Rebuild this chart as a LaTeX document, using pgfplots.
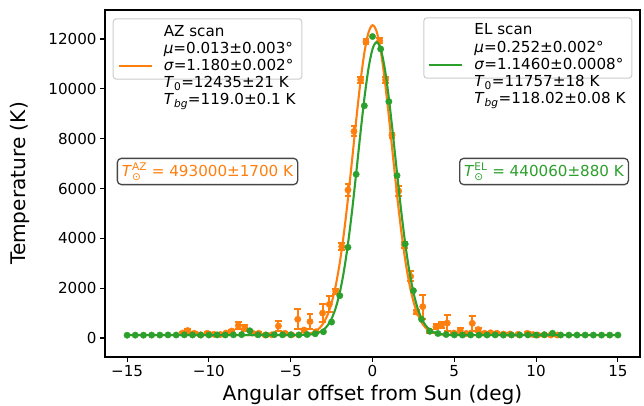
\documentclass[border=0pt]{standalone}
\usepackage{fontspec}
\setmainfont{DejaVu Sans}
\usepackage{pgfplots}
\usepackage{pgfplotstable}
\pgfplotsset{compat=1.18}
\definecolor{c0}{HTML}{FF7F0E}
\definecolor{c1}{HTML}{2CA02C}

\pgfplotstableread{
x y e
-11.6 200 60
-11.3 300 80
-10.9 190 40
-10.5 130 30
-10.1 190 40
-9.7 150 30
-9.3 140 30
-8.95 200 40
-8.6 280 60
-8.2 500 130
-7.8 400 110
-7.35 200 50
-6.95 190 40
-6.55 120 30
-6.15 130 30
-5.75 480 200
-5.35 190 50
-4.95 130 30
-4.57 750 400
-4.18 320 60
-3.82 660 300
-3.45 250 60
-3.05 1000 370
-2.64 1350 320
-2.25 1880 100
-1.88 3670 150
-1.5 5940 240
-1.13 8290 200
-0.72 10360 120
-0.4 11880 100
0.44 11930 100
0.8 10360 120
1.19 8140 100
1.6 5900 220
1.94 3750 120
2.33 2470 200
2.7 1040 80
3.07 1260 480
3.5 280 60
3.88 450 100
4.22 520 130
4.57 600 330
4.97 200 40
5.36 310 100
5.73 180 40
6.1 590 310
6.46 340 80
6.85 190 40
7.22 210 40
7.6 190 40
8.0 160 30
8.4 160 30
8.9 150 30
9.46 190 40
9.8 140 30
10.1 120 30
10.5 130 30
10.9 120 30
11.3 120 30
}\azdata

\pgfplotstableread{
x y
-15 112
-14.5 115
-14 113
-13.5 117
-13 118
-12.5 124
-12 120
-11.5 126
-11 122
-10.5 118
-10 120
-9.5 125
-9 121
-8.5 128
-8 135
-7.5 290
-7 128
-6.5 124
-6 135
-5.5 128
-5 130
-4.5 125
-4 140
-3.5 170
-3 250
-2.5 640
-2 1700
-1.5 3640
-1 6570
-0.5 9320
0 12100
0.5 11600
1 9490
1.5 6520
2 3775
2.5 1900
3 750
3.5 270
4 180
4.5 140
5 125
5.5 120
6 122
6.5 118
7 120
7.5 125
8 118
8.5 122
9 120
9.5 124
10 118
10.5 130
11 190
11.5 120
12 118
12.5 120
13 119
13.5 118
14 117
14.5 118
15 118
}\eldata

\pgfplotstableread{
x y
-15 119
-10 119
-6 119
-5 120.5
-4.5 127
-4 157
-3.75 196
-3.5 267
-3.25 391
-3 596
-2.75 921
-2.5 1406
-2.25 2096
-2 3021
-1.75 4193
-1.5 5586
-1.25 7132
-1 8721
-0.75 10207
-0.5 11432
-0.25 12249
0 12554
0.25 12306
0.5 11538
0.75 10351
1 8883
1.25 7298
1.5 5740
1.75 4327
2 3131
2.25 2181
2.5 1468
2.75 963
3 624
3.25 408
3.5 277
3.75 202
4 160
4.5 128
5 121
6 119
10 119
15 119
}\azfit

\pgfplotstableread{
x y
-15 118
-10 118
-6 118
-5 118.3
-4.5 120
-4 130
-3.75 144
-3.5 173
-3.25 228
-3 328
-2.75 498
-2.5 776
-2.25 1203
-2 1824
-1.75 2674
-1.5 3772
-1.25 5098
-1 6591
-0.75 8140
-0.5 9598
-0.25 10799
0 11594
0.25 11875
0.5 11604
0.75 10816
1 9620
1.25 8165
1.5 6616
1.75 5122
2 3791
2.25 2689
2.5 1835
2.75 1211
3 781
3.25 502
3.5 330
3.75 229
4 174
4.5 130
5 120
5.5 118.3
6 118
10 118
15 118
}\elfit

\newcommand{\fn}{\fontsize{15.2}{17.2}\selectfont}
\newcommand{\fs}{\fontsize{10.6}{11}\selectfont}
\newcommand{\fl}{\fontsize{20.2}{23}\selectfont}

\tikzset{
  annot/.style={draw=black!72, line width=1.3bp, rounded corners=4bp, fill=white, inner xsep=4.5bp, inner ysep=4bp, font=\fn, anchor=center},
}

\pgfplotsset{
  myaxis/.style={
    scale only axis, width=535bp, height=347bp,
    xmin=-16.35, xmax=16.35, ymin=-762, ymax=13164,
    xtick={-15,-10,-5,0,5,10,15},
    xticklabels={−15,−10,−5,0,5,10,15},
    ytick={0,2000,4000,6000,8000,10000,12000},
    scaled y ticks=false,
    yticklabel style={/pgf/number format/.cd, fixed, set thousands separator={}, assume math mode=true},
    tick label style={font=\fn},
    tick align=outside, major tick length=4.9bp,
    xtick pos=bottom, ytick pos=left,
    every tick/.style={black, line width=1.1bp},
    axis line style={line width=1.1bp},
    xlabel={Angular offset from Sun (deg)},
    ylabel={Temperature (K)},
    every axis x label/.style={at={(axis description cs:0.5,-0.1095)}, anchor=center, font=\fl},
    every axis y label/.style={at={(axis description cs:-0.1589,0.5)}, anchor=center, rotate=90, font=\fl},
    legend cell align=left,
    legend image code/.code={\draw[#1, yshift=-17bp] (0bp,0bp) -- (33bp,0bp);},
    legend style={draw=black!20, rounded corners=3bp, fill=white, fill opacity=0.8, text opacity=1, line width=1bp, font=\fn, inner xsep=4.3bp, inner ysep=3.2bp, column sep=9.2bp},
  },
}

\begin{document}
\begin{tikzpicture}
\useasboundingbox (-105bp,-49bp) rectangle (539bp,357bp);
\begin{axis}[myaxis, legend style={at={(axis description cs:0.0144,0.976)}, anchor=north west}]
\addplot[forget plot, only marks, mark=*, mark size=3.2bp, color=c0, mark options={fill=c0, draw=c0},
  error bars/.cd, y dir=both, y explicit,
  error bar style={line width=2bp, color=c0, solid},
  error mark options={rotate=90, mark size=3.4bp, line width=2bp, color=c0, solid}]
  table[x=x, y=y, y error=e] {\azdata};
\addplot[c0, line width=2.1bp, smooth] table[x=x,y=y] {\azfit};
\addlegendentry{\begin{tabular}{@{}l@{}}AZ scan\\ \textit{μ}=0.013±0.003°\\ \textit{σ}=1.180±0.002°\\ \textit{T}\textsubscript{0}=12435±21 K\\ \textit{T}\textsubscript{\textit{bg}}=119.0±0.1 K\rule[-9.2bp]{0pt}{0pt}\end{tabular}}
\node[annot, text=c0] at (axis description cs:0.1916,0.5346) {$\mbox{\textit{T}}^{\mbox{\fs AZ}}_{\mbox{\fs ⊙}}$ = 493000±1700 K};
\end{axis}
\begin{axis}[myaxis, hide axis, legend style={at={(axis description cs:0.9856,0.979)}, anchor=north east}]
\addplot[forget plot, only marks, mark=*, mark size=3.2bp, color=c1] table[x=x, y=y] {\eldata};
\addplot[c1, line width=2.1bp, smooth] table[x=x,y=y] {\elfit};
\addlegendentry{\begin{tabular}{@{}l@{}}EL scan\\ \textit{μ}=0.252±0.002°\\ \textit{σ}=1.1460±0.0008°\\ \textit{T}\textsubscript{0}=11757±18 K\\ \textit{T}\textsubscript{\textit{bg}}=118.02±0.08 K\rule[-9.2bp]{0pt}{0pt}\end{tabular}}
\node[annot, text=c1] at (axis description cs:0.8206,0.5346) {$\mbox{\textit{T}}^{\mbox{\fs EL}}_{\mbox{\fs ⊙}}$ = 440060±880 K};
\end{axis}
\end{tikzpicture}
\end{document}
